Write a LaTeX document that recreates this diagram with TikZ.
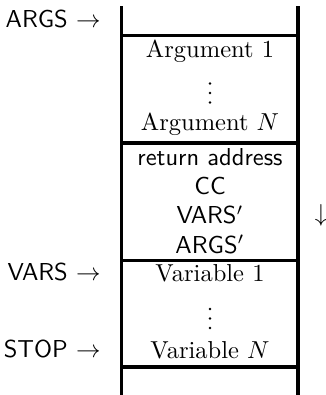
\documentclass[tikz,border=0pt]{standalone}
\usepackage{amsmath}
\usepackage{tikz}
\newcommand{\pointilles}[2]{\begin{scope}[shift={(#1,#2)}]\foreach \d in {-9.5,0,9.5} \fill (0,\d) circle (1.3);\end{scope}}

\begin{document}
\begin{tikzpicture}[x=0.408pt,y=-0.408pt,
    paroi/.style={line width=1.4pt},
    case/.style={inner sep=0pt},
    repere/.style={inner sep=0pt,anchor=east,font=\sffamily}]
  \def\xg{121.5}\def\xd{298}\def\xm{210}
  \useasboundingbox (0,0) rectangle (325,395);

  % pile vue de face
  \draw[paroi] (\xg,6) -- (\xg,395) (\xd,6) -- (\xd,395);
  \foreach \y in {35.5,143,260.5,367} \draw[paroi] (\xg,\y) -- (\xd,\y);

  % arguments
  \node[case] (arg1) at (\xm,51) {Argument 1};
  \pointilles{\xm}{93}
  \node[case] (argn) at (\xm,124) {Argument $N$};

  % bloc de controle
  \node[case,align=center,font=\sffamily] (ctrl) at (\xm,201)
    {return address\\CC\\VARS$'$\\ARGS$'$};

  % variables
  \node[case] (var1) at (\xm,273) {Variable 1};
  \pointilles{\xm}{318.5}
  \node[case] (varn) at (\xm,350) {Variable $N$};

  % pointeurs
  \node[repere] (args) at (101,19) {ARGS $\rightarrow$};
  \node[repere] (vars) at (101,272) {VARS $\rightarrow$};
  \node[repere] (stop) at (101,349) {STOP $\rightarrow$};

  % sens de croissance
  \node[case] (sens) at (321,215) {$\downarrow$};
\end{tikzpicture}
\end{document}
